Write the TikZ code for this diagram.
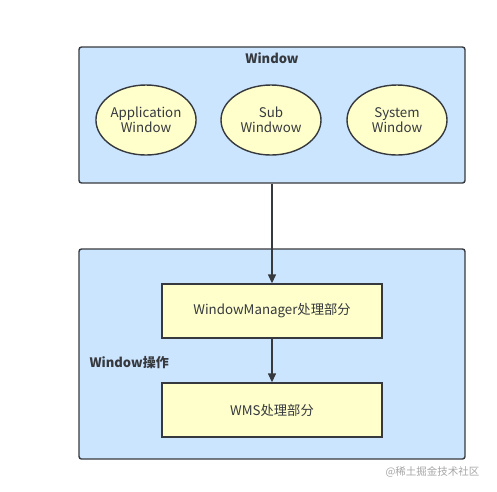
\documentclass[tikz,border=0pt]{standalone}
\usepackage{fontspec}
\setmainfont{Noto Sans CJK SC}
\usetikzlibrary{arrows.meta,shapes.geometric}
\definecolor{bluefill}{HTML}{CCE5FF}
\definecolor{yellowfill}{HTML}{FFFFCC}
\definecolor{edge}{HTML}{36393D}
\begin{document}
\begin{tikzpicture}[x=1pt,y=-1pt,
  group/.style={draw=edge,fill=bluefill,line width=1.4pt,rounded corners=2.5pt},
  oval/.style={ellipse,draw=edge,fill=yellowfill,line width=1.4pt,minimum width=100pt,minimum height=70pt,inner sep=0pt,align=center,font=\fontsize{13.3}{15.5}\selectfont,text=edge},
  proc/.style={rectangle,draw=edge,fill=yellowfill,line width=1.4pt,minimum width=220pt,minimum height=54pt,inner sep=0pt,font=\fontsize{13.3}{15.5}\selectfont,text=edge},
  flow/.style={draw=edge,line width=1.4pt,-{Triangle[length=9pt,width=8pt]}},
  title/.style={font=\bfseries\fontsize{13}{15}\selectfont,text=edge}]
\useasboundingbox (0,0) rectangle (497,491);
\node[group,minimum width=386pt,minimum height=136pt,inner sep=0pt] (top) at (272,115) {};
\node[title] (toptitle) at (272,58) {Window};
\node[oval] (app) at (146,120) {Application\\Window};
\node[oval] (sub) at (271,120) {Sub\\Windwow};
\node[oval] (sys) at (397,120) {System\\Window};
\node[group,minimum width=386pt,minimum height=210pt,inner sep=0pt] (bot) at (272,354) {};
\node[title,anchor=west] (bottitle) at (86,363) {Window操作};
\node[proc] (wm) at (272,311) {WindowManager处理部分};
\node[proc] (wms) at (272,410) {WMS处理部分};
\draw[flow] (top.south) -- (wm.north);
\draw[flow] (wm.south) -- (wms.north);
\node[anchor=east,text=black!35,font=\fontsize{10.5}{12}\selectfont] (wmark) at (483,472) {@稀土掘金技术社区};
\end{tikzpicture}
\end{document}
